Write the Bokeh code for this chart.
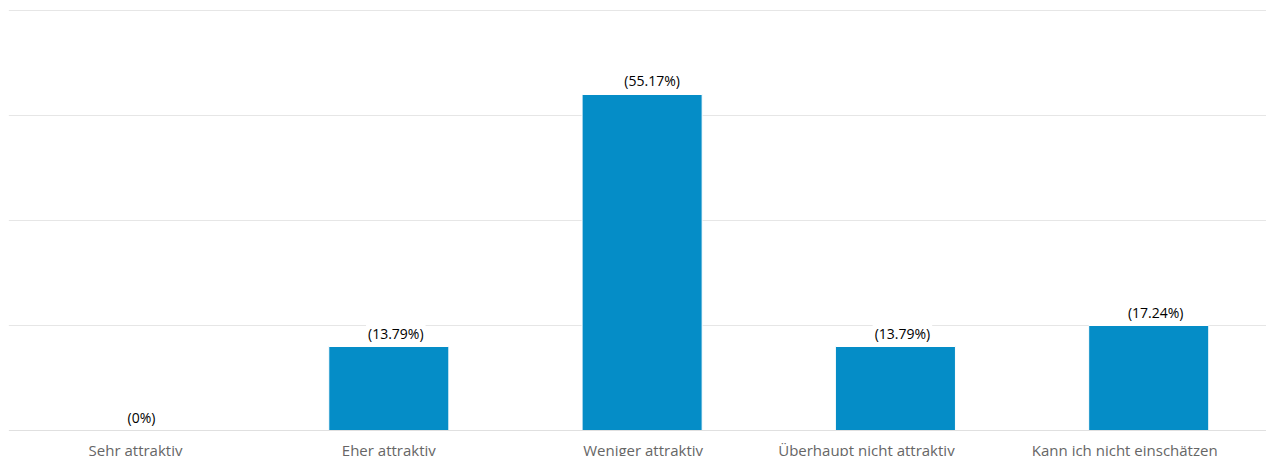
from bokeh.plotting import figure
from bokeh.models import ColumnDataSource, Range1d
from bokeh.core.properties import value
from bokeh.embed import file_html
from bokeh.resources import INLINE

# Survey answers (29 respondents)
categories = ["Sehr attraktiv", "Eher attraktiv", "Weniger attraktiv",
              "Überhaupt nicht attraktiv", "Kann ich nicht einschätzen"]
counts = [0, 4, 16, 4, 5]
percent_labels = ["(0%)", "(13.79%)", "(55.17%)", "(13.79%)", "(17.24%)"]
y_ticks = [5, 10, 15, 20]

# horizontal nudges (px) of the category names and of the value labels
name_shift = [0, 0, 1, -29, -24]
label_shift = [6, 7, 10, 7, 7]

xs = list(range(len(categories)))
src = ColumnDataSource(dict(x=xs, top=counts, label=percent_labels,
                            cat=categories, base=[0] * len(xs),
                            dx=name_shift, lx=label_shift))

# frame fills the whole page; the value axis runs 0..20 with room below for the category names
p = figure(width=1266, height=456, output_backend="svg", toolbar_location=None,
           x_range=Range1d(-0.533, 4.465), y_range=Range1d(-1.238, 20.476),
           min_border=0, background_fill_color="white",
           border_fill_color="white")
p.outline_line_color = None
p.axis.visible = False
p.grid.visible = False

# horizontal grid lines across the category span
grid_src = ColumnDataSource(dict(y=y_ticks, x0=[-0.5] * len(y_ticks),
                                 x1=[4.6] * len(y_ticks)))
p.segment(x0="x0", y0="y", x1="x1", y1="y", source=grid_src,
          line_color="#e6e6e6", line_width=1)

p.vbar(x="x", top="top", width=0.474, source=src,
       fill_color="#058DC7", line_color="white", line_width=1)

# category axis line
p.segment(x0=-0.5, y0=0, x1=4.6, y1=0, line_color="#e0e0e0", line_width=1)

# value labels sit on a white box that hides the grid line behind them
p.text(x="x", y="top", text="label", source=src, x_offset="lx", y_offset=-2,
       text_align="center", text_baseline="bottom",
       background_fill_color="white", padding=2,
       text_font=value("Open Sans"), text_font_size="14px", text_color="#000000")

p.text(x="x", y="base", text="cat", source=src, x_offset="dx", y_offset=9,
       text_align="center", text_baseline="top",
       text_font=value("Open Sans"), text_font_size="15px", text_color="#666666")

open("out.html", "w").write(file_html(p, INLINE))
